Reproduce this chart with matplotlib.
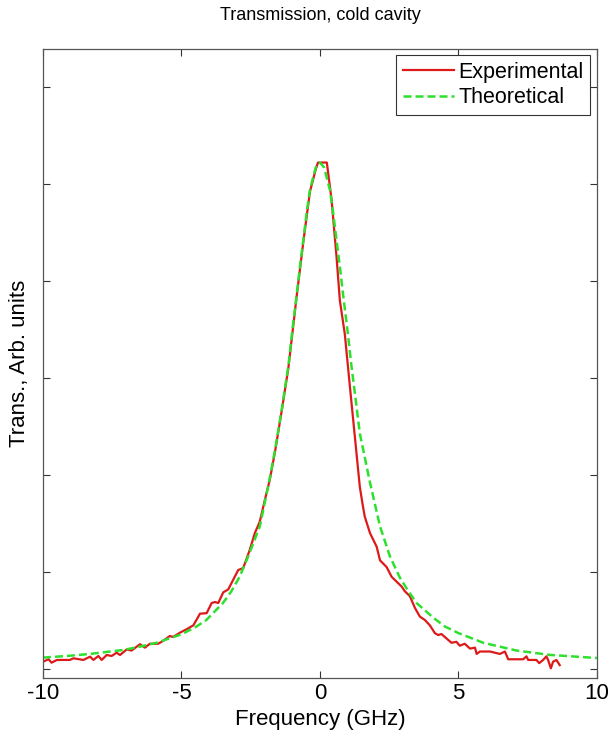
import numpy as np
import matplotlib
matplotlib.use('Agg')
import matplotlib.pyplot as plt

# theoretical curve
theo_x = [-10, -9.1, -8.3, -7.1, -6.5, -5.9, -5.0, -4.5, -4.1, -3.5, -3.2, -2.9, -2.59,
          -2.17, -1.87, -1.62, -1.38, -1.26, -1.14, -1.0, -0.84, -0.72, -0.6, -0.48,
          -0.36, -0.15, 0.0, 0.15, 0.36, 0.48, 0.6, 0.72, 0.84, 1.0, 1.14, 1.26, 1.44,
          1.81, 2.17, 2.53, 2.89, 3.2, 3.49, 4.09, 4.5, 5.0, 5.9, 6.5, 7.1, 8.3, 9.1, 10]
theo_y = [0.117, 0.135, 0.155, 0.196, 0.23, 0.27, 0.357, 0.43, 0.505, 0.68, 0.80, 0.95, 1.16,
          1.47, 1.88, 2.26, 2.67, 2.90, 3.12, 3.48, 3.85, 4.15, 4.42, 4.70,
          4.94, 5.17, 5.22, 5.17, 4.94, 4.70, 4.42, 4.15, 3.85, 3.48, 3.12, 2.85, 2.43,
          1.92, 1.47, 1.16, 0.94, 0.80, 0.68, 0.53, 0.44, 0.37, 0.27, 0.23, 0.19, 0.145, 0.13, 0.113]

# experimental trace
exp_x = [-10.0, -9.8, -9.69, -9.5, -9.03, -8.9, -8.54, -8.3, -8.18, -8.0, -7.88, -7.7,
         -7.52, -7.34, -7.22, -6.98, -6.8, -6.5, -6.32, -6.14, -5.84, -5.66, -5.42, -5.3,
         -5.05, -4.81, -4.57, -4.33, -4.09, -3.91, -3.79, -3.67, -3.49, -3.31, -3.13,
         -2.95, -2.77, -2.53, -2.35, -2.17, -1.99, -1.81, -1.62, -1.38, -1.14, -0.84,
         -0.6, -0.36, -0.15, -0.07, 0.25, 0.42, 0.6, 0.72, 0.90, 1.08, 1.26, 1.44, 1.54,
         1.62, 1.81, 2.05, 2.17, 2.41, 2.59, 2.77, 2.95, 3.07, 3.25, 3.43, 3.61, 3.79, 3.97,
         4.15, 4.27, 4.39, 4.57, 4.75, 4.93, 5.05, 5.23, 5.42, 5.60, 5.66, 5.78, 6.14,
         6.50, 6.68, 6.80, 6.98, 7.34, 7.46, 7.52, 7.82, 7.92, 8.06, 8.18, 8.24, 8.34,
         8.42, 8.54, 8.66]
exp_y = [0.075, 0.10, 0.065, 0.093, 0.093, 0.11, 0.093, 0.127, 0.093, 0.134, 0.093, 0.144,
         0.134, 0.168, 0.144, 0.20, 0.19, 0.255, 0.22, 0.26, 0.26, 0.29, 0.34, 0.33,
         0.375, 0.41, 0.45, 0.57, 0.575, 0.68, 0.69, 0.68, 0.79, 0.82, 0.92,
         1.02, 1.04, 1.23, 1.40, 1.52, 1.74, 1.95, 2.24, 2.66, 3.10, 3.84,
         4.40, 4.92, 5.15, 5.22, 5.22, 4.84, 4.25, 3.80, 3.45, 2.92, 2.40, 1.88, 1.70,
         1.57, 1.40, 1.26, 1.12, 1.05, 0.95, 0.90, 0.85, 0.80, 0.75, 0.63, 0.54, 0.505, 0.45,
         0.37, 0.35, 0.36, 0.315, 0.27, 0.28, 0.24, 0.26, 0.21, 0.22, 0.155, 0.18, 0.18,
         0.155, 0.18, 0.10, 0.10, 0.10, 0.13, 0.093, 0.093, 0.06, 0.093, 0.13, 0.093, 0.007,
         0.075, 0.093, 0.04]

xticks = [-10, -5, 0, 5, 10]
yticks = [0, 1, 2, 3, 4, 5, 6]

plt.rcParams['font.family'] = ['Liberation Sans', 'DejaVu Sans']
plt.rcParams['axes.unicode_minus'] = False

fig = plt.figure(figsize=(6.09, 7.34), dpi=100)
ax = fig.add_axes([0.0706, 0.0763, 0.9094, 0.8569])

ax.plot(exp_x, exp_y, color='#dd1a1a', lw=1.6, label='Experimental')
ax.plot(theo_x, theo_y, color='#2ee02e', lw=1.8, ls=(0, (3.2, 1.6)), label='Theoretical')

ax.set_xlim(-10, 10)
ax.set_ylim(-0.093, 6.39)
ax.set_xticks(xticks)
ax.set_yticks(yticks)
ax.set_yticklabels([])
ax.tick_params(direction='in', top=True, right=True, length=5, width=0.8,
               labelsize=16, color='#333333')
for s in ax.spines.values():
    s.set_color('#555555')
    s.set_linewidth(0.9)

ax.set_title('Transmission, cold cavity', fontsize=13, pad=21)
ax.set_xlabel('Frequency (GHz)', fontsize=16, labelpad=4)
ax.set_ylabel('Trans., Arb. units', fontsize=16, labelpad=6)

leg = ax.legend(loc='upper right', fontsize=15.5, fancybox=False, framealpha=1,
                edgecolor='#333333', handlelength=2.4, handletextpad=0.2,
                borderpad=0.3, labelspacing=0.2, borderaxespad=0.3)
leg.get_frame().set_linewidth(0.8)

fig.savefig('out.png', dpi=100)
